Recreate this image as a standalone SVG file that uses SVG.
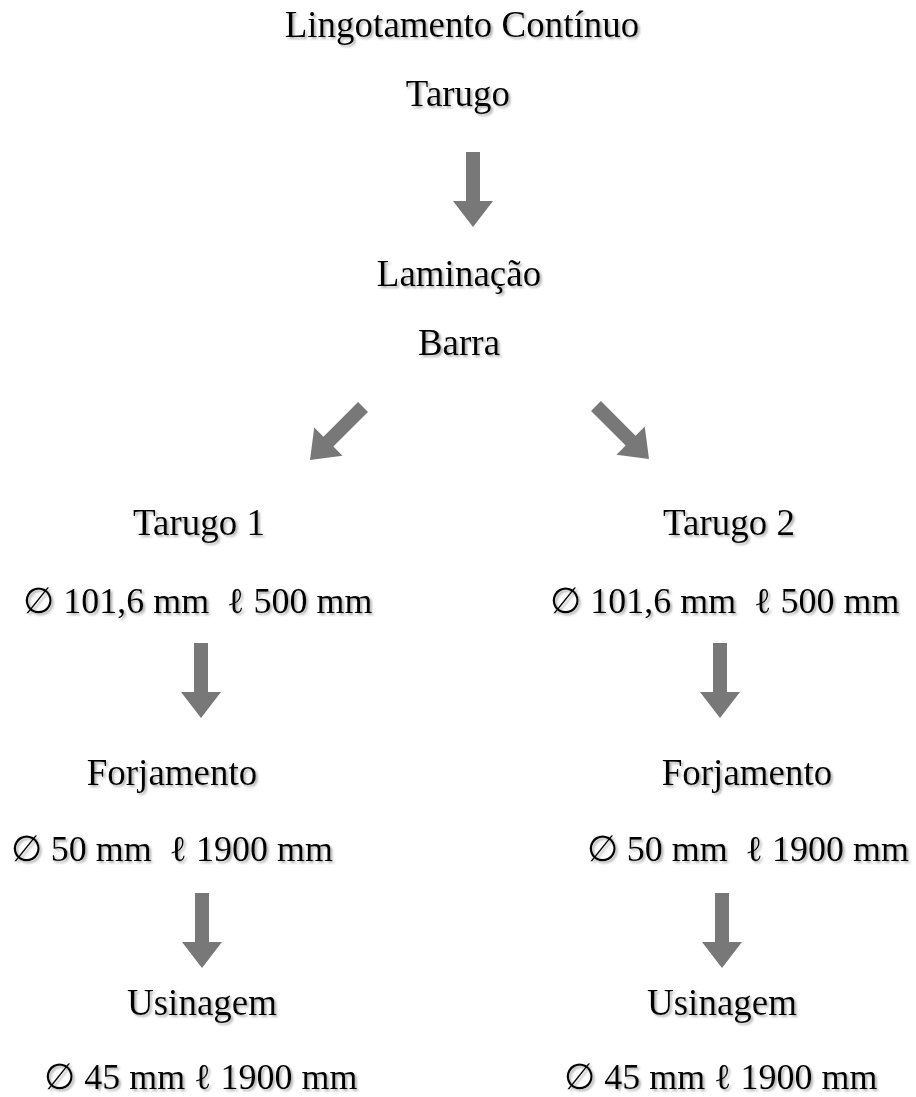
<svg xmlns="http://www.w3.org/2000/svg" xmlns:xlink="http://www.w3.org/1999/xlink" width="916" height="1097" viewBox="0 0 916 1097">
<style>
text{font-family:"Liberation Serif","Times New Roman",serif;font-size:37px;fill:#000;text-anchor:middle;white-space:pre;filter:url(#sh)}
.dim{font-size:36px}
.arr{fill:#787878}
</style>
<defs>
<filter id="sh" x="-5%" y="-20%" width="110%" height="150%">
<feDropShadow dx="2" dy="2" stdDeviation="0.8" flood-color="#888" flood-opacity="0.65"/>
</filter>
<path id="arrow" class="arr" d="M0,0 L-20,-26 L-7,-26 L-7,-75 L7,-75 L7,-26 L20,-26 Z"/>
</defs>
<rect width="916" height="1097" fill="#fff"/>
<g id="connectors">
<use xlink:href="#arrow" href="#arrow" transform="translate(473,227)"/>
<use xlink:href="#arrow" href="#arrow" transform="translate(310,460) rotate(45)"/>
<use xlink:href="#arrow" href="#arrow" transform="translate(649,459) rotate(-45)"/>
<use xlink:href="#arrow" href="#arrow" transform="translate(201,718)"/>
<use xlink:href="#arrow" href="#arrow" transform="translate(720,718)"/>
<use xlink:href="#arrow" href="#arrow" transform="translate(202,968)"/>
<use xlink:href="#arrow" href="#arrow" transform="translate(722,968)"/>
</g>
<g id="n-lingotamento"><text x="462" y="37">Lingotamento Contínuo</text></g>
<g id="n-tarugo"><text x="458" y="106">Tarugo</text></g>
<g id="n-laminacao"><text x="459" y="286">Laminação</text></g>
<g id="n-barra"><text x="459" y="355">Barra</text></g>
<g id="n-tarugo1"><text x="199" y="535">Tarugo 1</text><text class="dim" x="198" y="613">∅ 101,6 mm  ℓ 500 mm</text></g>
<g id="n-tarugo2"><text x="729" y="535">Tarugo 2</text><text class="dim" x="725" y="613">∅ 101,6 mm  ℓ 500 mm</text></g>
<g id="n-forjamento1"><text x="172" y="785">Forjamento</text><text class="dim" x="172" y="861">∅ 50 mm  ℓ 1900 mm</text></g>
<g id="n-forjamento2"><text x="747" y="785">Forjamento</text><text class="dim" x="748" y="861">∅ 50 mm  ℓ 1900 mm</text></g>
<g id="n-usinagem1"><text x="202" y="1015">Usinagem</text><text class="dim" x="201" y="1089">∅ 45 mm ℓ 1900 mm</text></g>
<g id="n-usinagem2"><text x="722" y="1015">Usinagem</text><text class="dim" x="721" y="1089">∅ 45 mm ℓ 1900 mm</text></g>
</svg>
